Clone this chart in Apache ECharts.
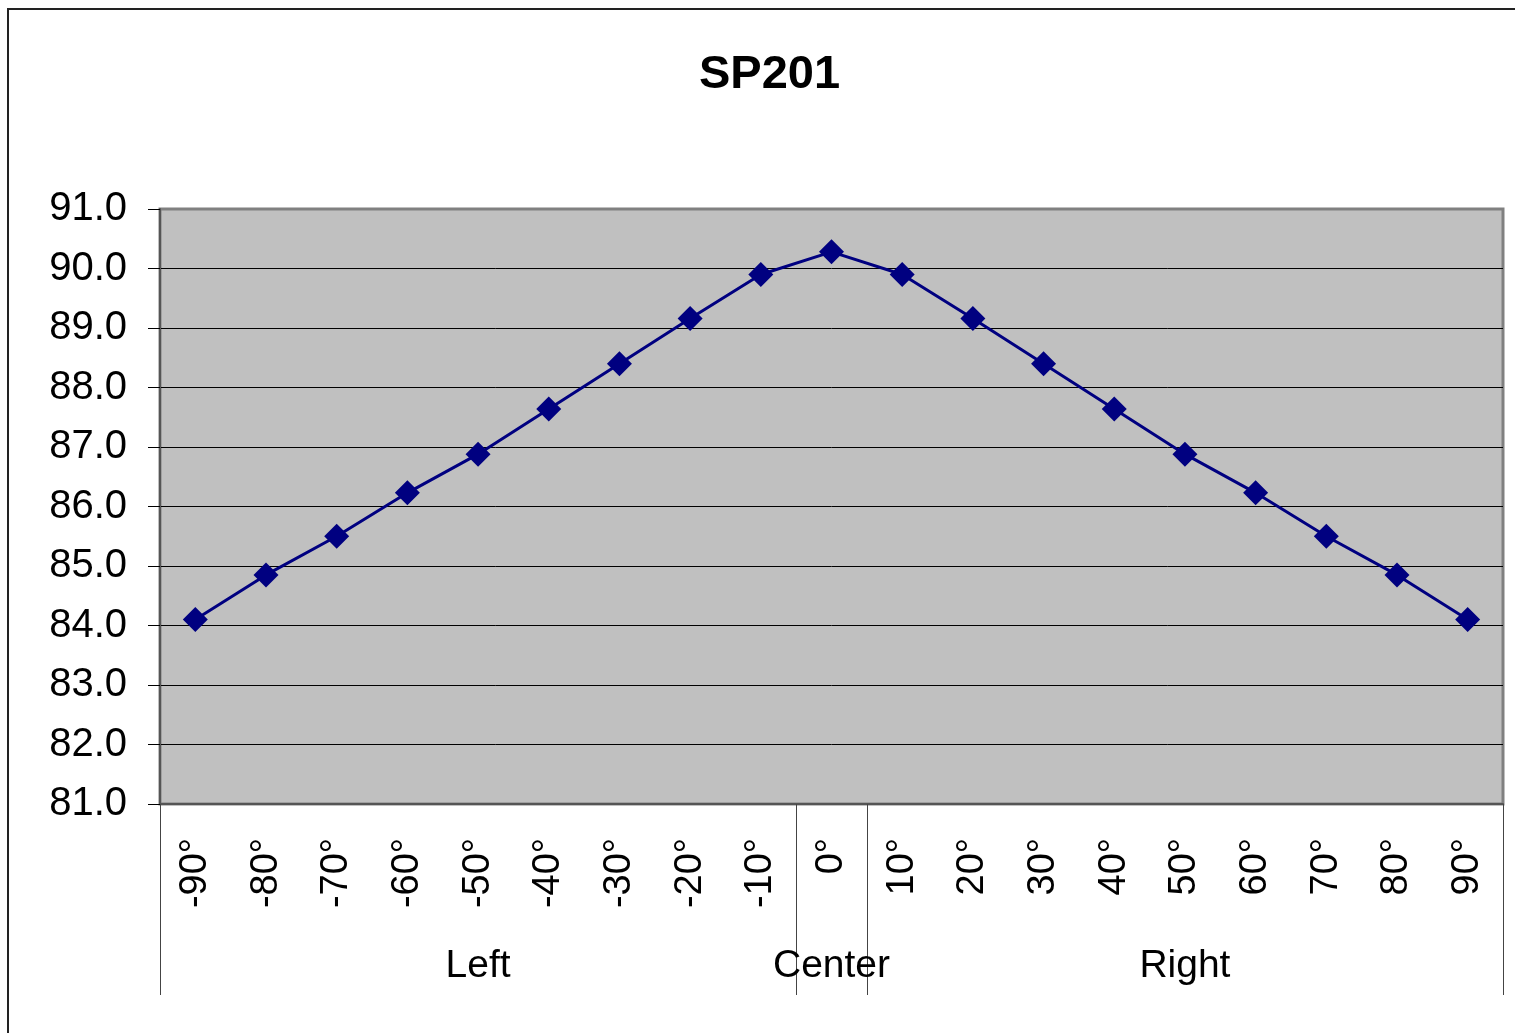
<!DOCTYPE html>
<html>
<head>
<meta charset="utf-8">
<title>SP201</title>
<script src="https://cdn.jsdelivr.net/npm/echarts@6/dist/echarts.min.js"></script>
<style>
    html, body {
        margin: 0;
        padding: 0;
        background: #fff;
    }
    #chart {
        width: 1515px;
        height: 1033px;
    }
</style>
</head>
<body>
<div id="chart"></div>
<script>
// angles along the x axis
const angles = ['-90°', '-80°', '-70°', '-60°', '-50°', '-40°', '-30°', '-20°', '-10°', '0°',
    '10°', '20°', '30°', '40°', '50°', '60°', '70°', '80°', '90°'];
// measured values for each angle
const values = [84.1, 84.85, 85.5, 86.23, 86.88, 87.64, 88.4, 89.16, 89.9, 90.28,
    89.9, 89.16, 88.4, 87.64, 86.88, 86.23, 85.5, 84.85, 84.1];
// group labels and where the groups start / end (in category units)
const groupNames = ['Left', 'Center', 'Right'];
const groupCenters = [4.5, 9.5, 14.5];
const groupBounds = [0, 9, 10, 19];
// y axis range
const yMin = 81;
const yMax = 91;
const yStep = 1;

const FONT = '"Liberation Sans", Arial, sans-serif';

const chart = echarts.init(document.getElementById('chart'));

const option = {
    backgroundColor: '#fff',
    animation: false,
    title: {
        text: 'SP201',
        left: 694,
        top: 47,
        textStyle: {
            fontFamily: FONT,
            fontSize: 47,
            fontWeight: 'bold',
            color: '#000'
        }
    },
    graphic: [
        {
            type: 'rect',
            shape: { x: 8, y: 9, width: 1600, height: 1100 },
            style: { fill: 'none', stroke: '#222', lineWidth: 2 },
            silent: true,
            z: 100
        }
    ],
    grid: {
        left: 160,
        right: 12,
        top: 209,
        bottom: 229,
        show: true,
        backgroundColor: '#c0c0c0',
        borderColor: '#808080',
        borderWidth: 3
    },
    xAxis: [
        {
            type: 'category',
            data: angles,
            boundaryGap: true,
            axisLine: { lineStyle: { color: '#555', width: 2 } },
            axisTick: {
                interval: 0,
                length: 104,
                lineStyle: { color: '#444', width: 1 }
            },
            axisLabel: {
                interval: 0,
                rotate: 90,
                margin: 34,
                fontFamily: FONT,
                fontSize: 38,
                color: '#000'
            },
            splitLine: { show: false }
        },
        {
            type: 'value',
            position: 'bottom',
            min: 0,
            max: angles.length,
            axisLine: { show: false },
            axisTick: {
                show: true,
                customValues: groupBounds,
                length: 191,
                lineStyle: { color: '#444', width: 1 }
            },
            axisLabel: {
                customValues: groupCenters,
                margin: 143,
                fontFamily: FONT,
                fontSize: 39,
                color: '#000',
                formatter: (v) => groupNames[groupCenters.indexOf(v)] || ''
            },
            splitLine: { show: false }
        }
    ],
    yAxis: {
        type: 'value',
        min: yMin,
        max: yMax,
        interval: yStep,
        axisLine: { show: true, lineStyle: { color: '#555', width: 2 } },
        axisTick: { show: true, length: 12, lineStyle: { color: '#000' } },
        axisLabel: {
            margin: 33,
            fontFamily: FONT,
            fontSize: 40,
            color: '#000',
            formatter: (v) => v.toFixed(1)
        },
        splitLine: {
            show: true,
            showMaxLine: false,
            showMinLine: false,
            lineStyle: { color: '#000', width: 1 }
        }
    },
    series: [
        {
            name: 'SP201',
            type: 'line',
            data: values,
            xAxisIndex: 0,
            symbol: 'diamond',
            symbolSize: 25,
            itemStyle: { color: '#000080' },
            lineStyle: { color: '#000080', width: 3 }
        }
    ]
};

chart.setOption(option);
</script>
</body>
</html>
